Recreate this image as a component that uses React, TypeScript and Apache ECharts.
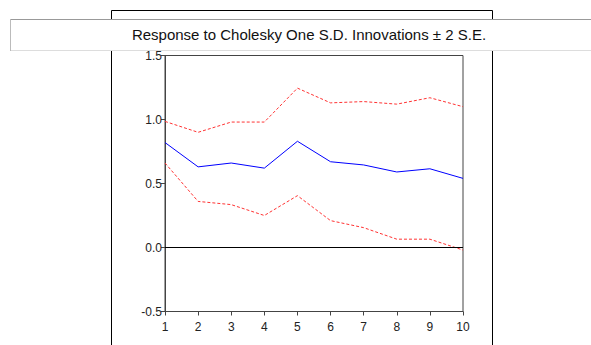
import React, { useEffect, useRef } from "react";
import * as echarts from "echarts";

const periods = [1, 2, 3, 4, 5, 6, 7, 8, 9, 10];
const response = [0.82, 0.63, 0.66, 0.62, 0.83, 0.67, 0.645, 0.59, 0.615, 0.54];
const upperBand = [0.985, 0.9, 0.98, 0.98, 1.245, 1.13, 1.14, 1.12, 1.17, 1.1];
const lowerBand = [0.66, 0.36, 0.335, 0.25, 0.405, 0.21, 0.155, 0.065, 0.065, -0.02];
const titleText = "Response to Cholesky One S.D. Innovations \u00B1 2 S.E.";

export default function App() {
  const ref = useRef<HTMLDivElement>(null);
  useEffect(() => {
    if (!ref.current) return;
    const chart = echarts.init(ref.current, null, { renderer: "svg" });
    const pts = (arr: number[]) => periods.map((p, i) => [p, arr[i]]);
    chart.setOption({
      animation: false,
      backgroundColor: "#ffffff",
      grid: {
        left: 165,
        top: 55.5,
        width: 298,
        height: 256,
        show: true,
        borderColor: "#444",
        borderWidth: 1,
        backgroundColor: "transparent",
      },
      xAxis: {
        type: "value",
        min: 1,
        max: 10,
        interval: 1,
        axisLine: { show: true, onZero: false, lineStyle: { color: "#444", width: 1 } },
        axisTick: { show: true, length: 4, lineStyle: { color: "#444" } },
        axisLabel: { color: "#222", fontSize: 12, fontFamily: "Arial, Liberation Sans", margin: 9 },
        splitLine: { show: false },
      },
      yAxis: {
        type: "value",
        min: -0.5,
        max: 1.5,
        interval: 0.5,
        axisLine: { show: true, lineStyle: { color: "#444", width: 1 } },
        axisTick: { show: true, length: 4, lineStyle: { color: "#444" } },
        axisLabel: {
          color: "#222",
          fontSize: 12,
          fontFamily: "Arial, Liberation Sans",
          margin: 3,
          padding: [0, 0, 3, 0],
          formatter: (v: number) => v.toFixed(1),
        },
        splitLine: { show: false },
      },
      series: [
        {
          type: "line",
          data: pts(response),
          symbol: "none",
          lineStyle: { color: "#0000ff", width: 1 },
          z: 3,
          markLine: {
            silent: true,
            symbol: "none",
            label: { show: false },
            lineStyle: { color: "#000", width: 1, type: "solid" },
            data: [{ yAxis: 0 }],
          },
        },
        {
          type: "line",
          data: pts(upperBand),
          symbol: "none",
          lineStyle: { color: "#ff3333", width: 1, type: [3, 2] },
        },
        {
          type: "line",
          data: pts(lowerBand),
          symbol: "none",
          lineStyle: { color: "#ff3333", width: 1, type: [3, 2] },
        },
      ],
      graphic: [
        {
          type: "rect",
          z: 50,
          shape: { x: 111.5, y: 10.5, width: 381, height: 400 },
          style: { fill: "none", stroke: "#000", lineWidth: 1 },
        },
        {
          type: "rect",
          z: 100,
          shape: { x: 10.5, y: 19.5, width: 600, height: 31 },
          style: { fill: "#fff", stroke: "#dddddd", lineWidth: 1 },
        },
        {
          type: "line",
          z: 101,
          shape: { x1: 10, y1: 19.5, x2: 591, y2: 19.5 },
          style: { stroke: "#999", lineWidth: 1 },
        },
        {
          type: "line",
          z: 101,
          shape: { x1: 10.5, y1: 19, x2: 10.5, y2: 51 },
          style: { stroke: "#bbb", lineWidth: 1 },
        },
        {
          type: "text",
          z: 102,
          x: 309,
          y: 34,
          style: {
            text: titleText,
            fill: "#111",
            fontSize: 15,
            fontFamily: "Arial, Liberation Sans",
            align: "center",
            verticalAlign: "middle",
          },
        },
      ],
    });
    return () => chart.dispose();
  }, []);
  return (
    <div
      ref={ref}
      style={{ position: "fixed", left: 0, top: 0, width: 591, height: 345 }}
    />
  );
}
